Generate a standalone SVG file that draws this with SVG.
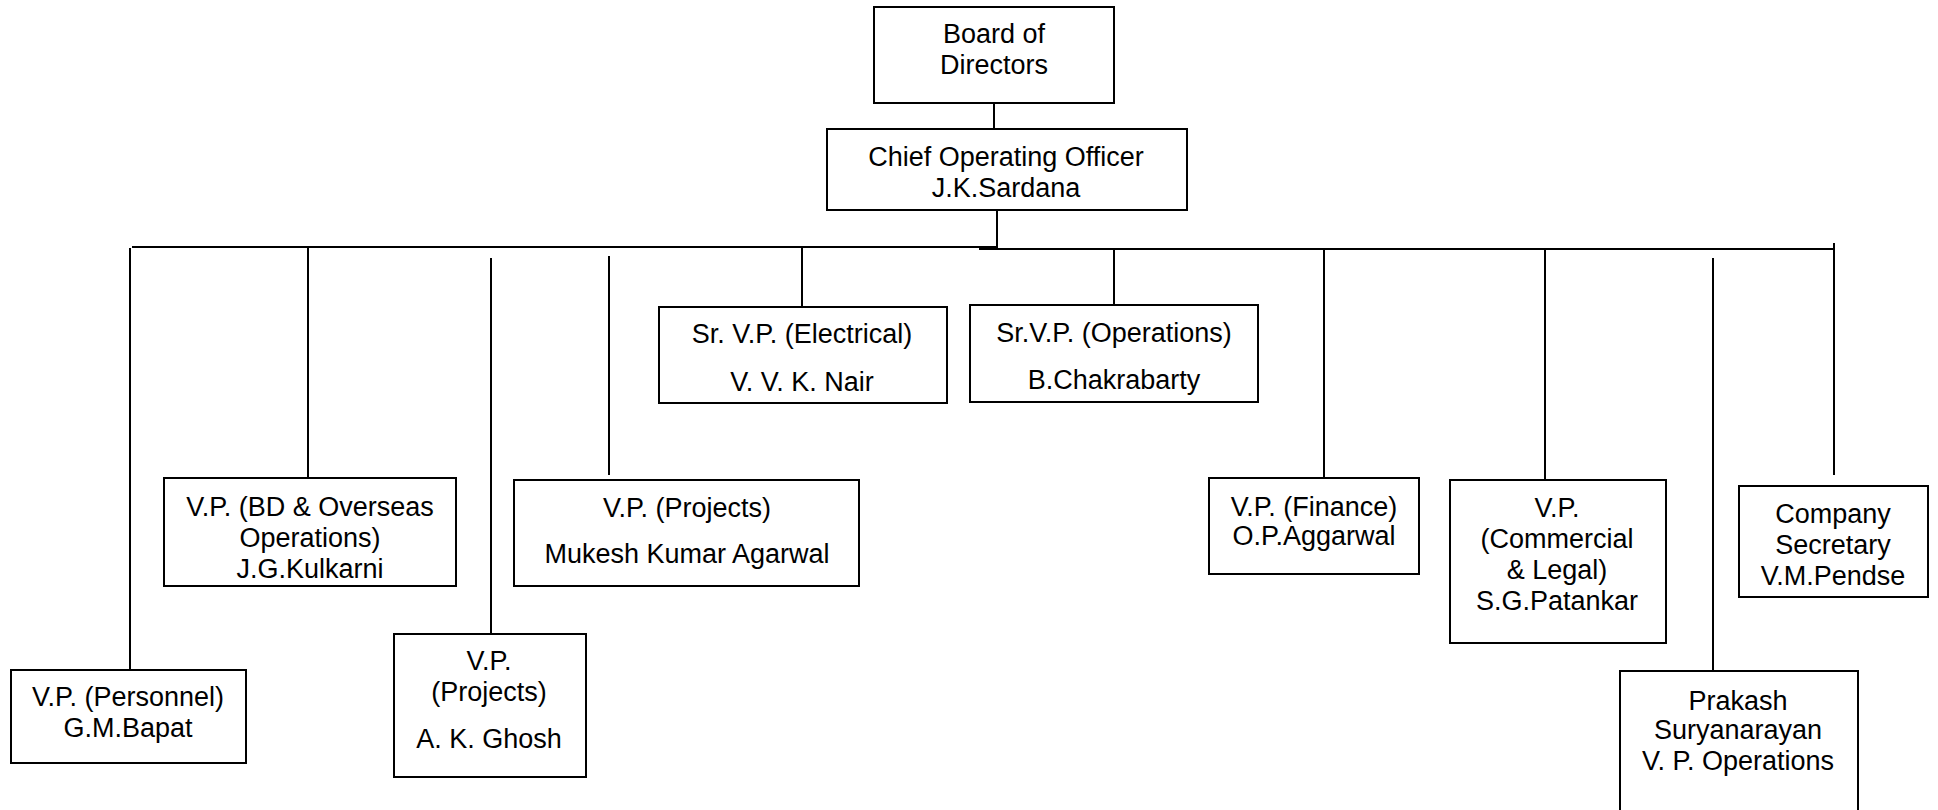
<svg xmlns="http://www.w3.org/2000/svg" width="1938" height="810" viewBox="0 0 1938 810">
<style>
.box{fill:#fff;stroke:#000;stroke-width:2}
.ln{stroke:#000;stroke-width:2;fill:none}
text{font-family:"Liberation Sans",Arial,sans-serif;font-size:27px;text-anchor:middle;fill:#000}
</style>
<rect width="1938" height="810" fill="#fff"/>
<g id="connectors">
<line class="ln" x1="994" y1="103" x2="994" y2="129"/>
<line class="ln" x1="997" y1="210" x2="997" y2="248"/>
<line class="ln" x1="132" y1="247" x2="997" y2="247"/>
<line class="ln" x1="979" y1="249" x2="1834" y2="249"/>
<line class="ln" x1="130" y1="248" x2="130" y2="670"/>
<line class="ln" x1="308" y1="248" x2="308" y2="478"/>
<line class="ln" x1="491" y1="258" x2="491" y2="634"/>
<line class="ln" x1="609" y1="256" x2="609" y2="475"/>
<line class="ln" x1="802" y1="248" x2="802" y2="307"/>
<line class="ln" x1="1114" y1="249" x2="1114" y2="305"/>
<line class="ln" x1="1324" y1="249" x2="1324" y2="478"/>
<line class="ln" x1="1545" y1="249" x2="1545" y2="480"/>
<line class="ln" x1="1713" y1="258" x2="1713" y2="671"/>
<line class="ln" x1="1834" y1="243" x2="1834" y2="475"/>
</g>
<g id="board"><rect class="box" x="874" y="7" width="240" height="96"/><text x="994" y="43">Board of</text><text x="994" y="74">Directors</text></g>
<g id="coo"><rect class="box" x="827" y="129" width="360" height="81"/><text x="1006" y="166">Chief Operating Officer</text><text x="1006" y="197">J.K.Sardana</text></g>
<g id="personnel"><rect class="box" x="11" y="670" width="235" height="93"/><text x="128" y="706">V.P. (Personnel)</text><text x="128" y="737">G.M.Bapat</text></g>
<g id="bd"><rect class="box" x="164" y="478" width="292" height="108"/><text x="310" y="516">V.P. (BD &amp; Overseas</text><text x="310" y="547">Operations)</text><text x="310" y="578">J.G.Kulkarni</text></g>
<g id="ghosh"><rect class="box" x="394" y="634" width="192" height="143"/><text x="489" y="670">V.P.</text><text x="489" y="701">(Projects)</text><text x="489" y="748">A. K. Ghosh</text></g>
<g id="mukesh"><rect class="box" x="514" y="480" width="345" height="106"/><text x="687" y="517">V.P. (Projects)</text><text x="687" y="563">Mukesh Kumar Agarwal</text></g>
<g id="electrical"><rect class="box" x="659" y="307" width="288" height="96"/><text x="802" y="343">Sr. V.P. (Electrical)</text><text x="802" y="391">V. V. K. Nair</text></g>
<g id="operations"><rect class="box" x="970" y="305" width="288" height="97"/><text x="1114" y="342">Sr.V.P. (Operations)</text><text x="1114" y="389">B.Chakrabarty</text></g>
<g id="finance"><rect class="box" x="1209" y="478" width="210" height="96"/><text x="1314" y="516">V.P. (Finance)</text><text x="1314" y="545">O.P.Aggarwal</text></g>
<g id="commercial"><rect class="box" x="1450" y="480" width="216" height="163"/><text x="1557" y="517">V.P.</text><text x="1557" y="548">(Commercial</text><text x="1557" y="579">&amp; Legal)</text><text x="1557" y="610">S.G.Patankar</text></g>
<g id="prakash"><rect class="box" x="1620" y="671" width="238" height="150"/><text x="1738" y="710">Prakash</text><text x="1738" y="739">Suryanarayan</text><text x="1738" y="770">V. P. Operations</text></g>
<g id="company"><rect class="box" x="1739" y="486" width="189" height="111"/><text x="1833" y="523">Company</text><text x="1833" y="554">Secretary</text><text x="1833" y="585">V.M.Pendse</text></g>
</svg>
